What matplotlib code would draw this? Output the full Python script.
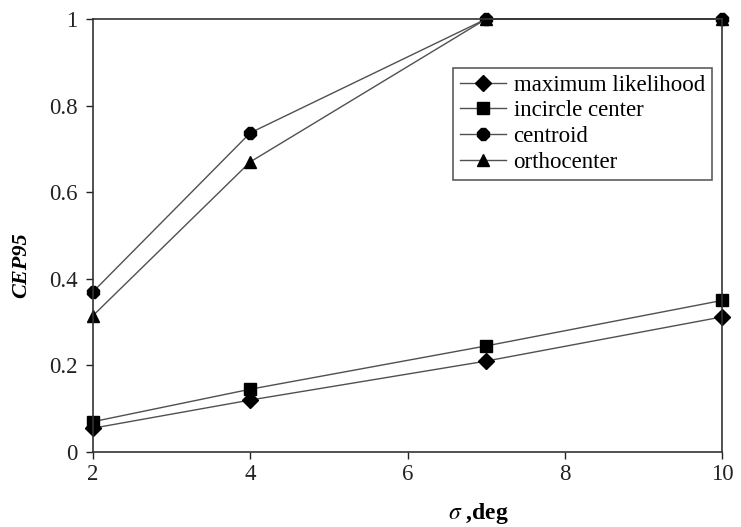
import numpy as np
import matplotlib.pyplot as plt

plt.rcParams['font.family'] = ['Liberation Serif', 'DejaVu Serif']
plt.rcParams['mathtext.fontset'] = 'stix'

sigma = [2, 4, 7, 10]
max_likelihood = [0.055, 0.12, 0.21, 0.312]
incircle = [0.07, 0.145, 0.245, 0.35]
centroid = [0.37, 0.737, 1.0, 1.0]
orthocenter = [0.315, 0.67, 1.0, 1.0]

xticks = [2, 4, 6, 8, 10]
yticks = [0, 0.2, 0.4, 0.6, 0.8, 1.0]
ytick_labels = ['0', '0.2', '0.4', '0.6', '0.8', '1']

fig = plt.figure(figsize=(7.41, 5.27), dpi=100)
ax = fig.add_axes([0.1255, 0.1423, 0.849, 0.8217])

line_kw = dict(color='#505050', lw=1.0, markerfacecolor='black',
               markeredgecolor='black', markersize=9)
ax.plot(sigma, max_likelihood, marker='D', label='maximum likelihood',
        **{**line_kw, 'markersize': 8})
ax.plot(sigma, incircle, marker='s', label='incircle center', **line_kw)
ax.plot(sigma, centroid, marker='8', label='centroid', **line_kw)
ax.plot(sigma, orthocenter, marker='^', label='orthocenter', **line_kw)

ax.set_xlim(2, 10)
ax.set_ylim(0, 1)
ax.set_xticks(xticks)
ax.set_yticks(yticks)
ax.set_yticklabels(ytick_labels)
ax.tick_params(direction='out', length=5, width=1, labelsize=16.5,
               top=False, right=False, colors='#222222')
ax.tick_params(axis='y', pad=6)
for s in ax.spines.values():
    s.set_color('#333333')
    s.set_linewidth(1.2)
for ln in ax.lines:
    ln.set_clip_on(False)

fig.text(478 / 741, 1 - 513 / 527, r'$\sigma$ ,deg', fontsize=17,
         fontweight='bold', ha='center', va='center')
fig.text(21 / 741, 1 - 265 / 527, 'CEP95', fontsize=16, fontweight='bold',
         style='italic', rotation=90, ha='center', va='center')

leg = ax.legend(loc='upper left', bbox_to_anchor=(0.572, 0.887),
                fontsize=16.5, frameon=True, fancybox=False,
                edgecolor='#333333', borderpad=0.3, labelspacing=0.2,
                handlelength=2.0, handletextpad=0.35, borderaxespad=0)
leg.get_frame().set_linewidth(1.2)

fig.savefig('out.png', dpi=100)
